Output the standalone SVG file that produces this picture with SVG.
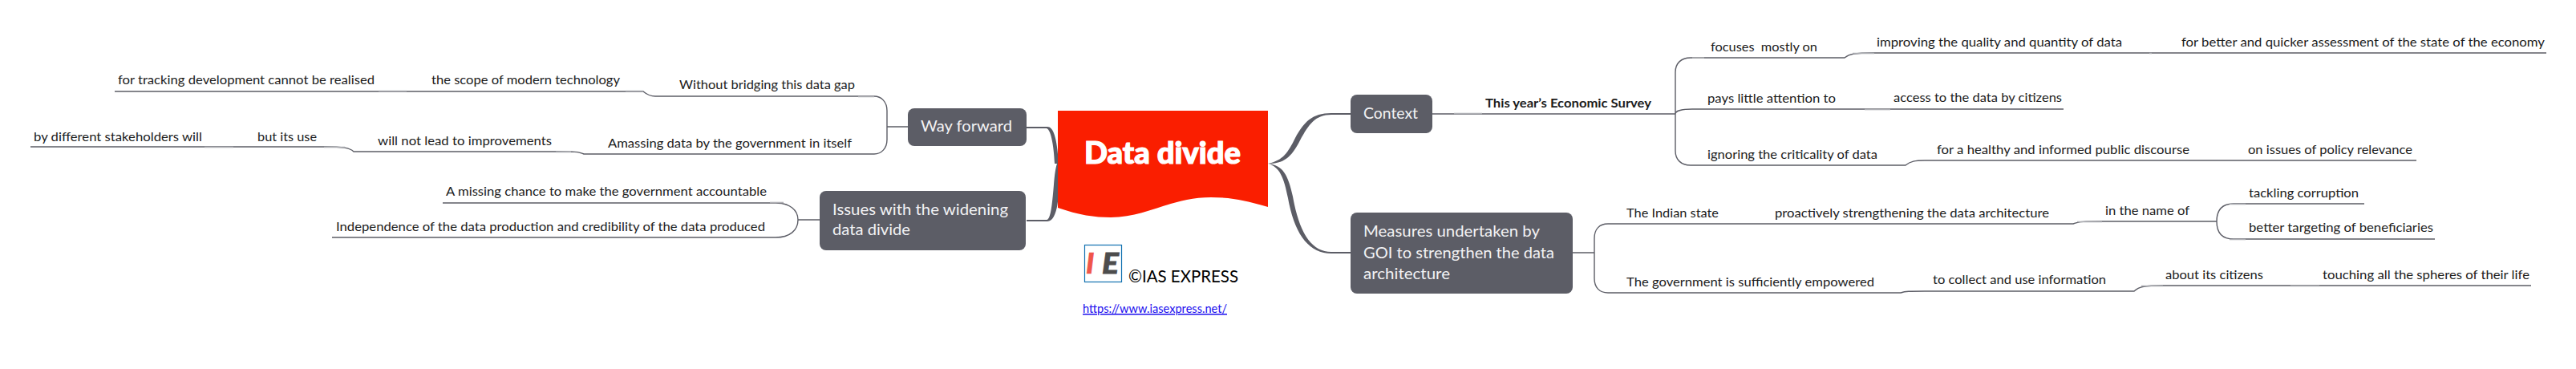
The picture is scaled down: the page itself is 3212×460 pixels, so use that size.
<svg xmlns="http://www.w3.org/2000/svg" width="3212" height="460" viewBox="0 0 3212 460">
<style>
text{font-family:"Lato","Carlito","Open Sans",sans-serif;fill:#1c1c1c;font-size:15px}
.t{font-size:18.5px;fill:#f2f2f4}
.b{font-weight:700}
.box{fill:#5c5d66}
.l{fill:none;stroke:#5c5d66;stroke-width:1.4}
.h{fill:none;stroke:#adaeb3;stroke-width:1.6}
.f{fill:#5c5d66}
</style>
<rect width="3212" height="460" fill="#fff"/>
<g id="connectors">
<path class="f" d="M1581 204C1600 200 1606 190 1615 172C1626 152 1636 141 1660 141L1684 141L1684 143L1660 143C1640 143 1632 155 1621 175C1610 197 1600 204 1581 204Z"/>
<path class="f" d="M1581 204C1600 206 1606 218 1612 245C1620 290 1635 314 1660 314L1684 314L1684 316L1660 316C1632 316 1614 292 1606 247C1601 222 1596 208 1581 204Z"/>
<path class="f" d="M1280 158H1306C1313 158 1318 170 1320 204L1315 204C1314 180 1310 161 1305 160H1280Z"/>
<path class="f" d="M1280 274H1305C1310 274 1312 255 1314 230C1315 218 1316 210 1318 204L1322 204L1320 240C1319 262 1314 276 1306 276H1280Z"/>
<path class="l" d="M1786 142H2089"/>
<path class="h" d="M1813 141.500H1848"/>
<path class="l" d="M2125 72H2108C2096 72 2089 79 2089 90V188C2089 199 2096 206 2108 206H2125M2089 142C2089 138 2098 136 2110 136H2125"/>
<path class="l" d="M2125 72H2300C2306 67 2312 66 2337 66H3175"/>
<path class="h" d="M2310 66.500H2337M2110 72H2125M2680 66.500H2683"/>
<path class="l" d="M2125 136H2573"/>
<path class="h" d="M2325 136.500H2357"/>
<path class="l" d="M2125 206H2376C2382 201 2388 200 2400 200H3013"/>
<path class="l" d="M1961 315H1988M2028 279H2005C1994 279 1988 286 1988 297V347C1988 358 1994 365 2005 365H2370C2376 363 2380 363 2400 363H2661C2667 357 2675 356 2697 356H3156M2028 279H2585C2592 276 2600 276 2621 276H2764M2800 254H2785C2771 254 2764 262 2764 276C2764 290 2771 298 2785 298H2800M2800 254H2948M2800 298H3036"/>
<path class="h" d="M2590 276.500H2621M2670 356.500H2697M2856 356.500H2892M2780 254.500H2800M2780 298.500H2800"/>
<path class="l" d="M143 114H802C808 119 812 120 817 120H1090C1099 120 1106 127 1106 138V174C1106 185 1099 192 1090 192H728C722 189 715 189 693 189H441C436 184 428 183 404 183H38M1106 158H1132"/>
<path class="h" d="M472 113.500H507M780 113.500H802M1070 120.500H1090M693 189.500H712M404 183.500H430M255 183.500H291"/>
<path class="l" d="M552 253H967C985 253 995 262 995 274C995 287 985 296 967 296H414M995 274H1022"/>
<path class="h" d="M960 252.500H977"/>
</g>
<g id="central">
<path fill="#fa1e00" d="M1319 138H1581V258C1560 252 1540 246 1510 246C1460 246 1430 271 1385 271C1365 271 1345 268 1319 259Z"/>
<text x="1352" y="204" textLength="195" lengthAdjust="spacingAndGlyphs" style="font-size:37px;font-weight:900;fill:#fff;stroke:#fff;stroke-width:1.2">Data divide</text>
</g>
<g id="logo">
<rect x="1352.500" y="305.500" width="46" height="46" fill="#fff" stroke="#1070b0" stroke-width="1.200"/>
<text x="1354" y="341" style="font-size:36px;font-weight:900;font-style:italic;fill:#f0554a;stroke:#f0554a;stroke-width:.6">I</text>
<text x="1374" y="341" textLength="21" lengthAdjust="spacingAndGlyphs" style="font-size:36px;font-weight:900;font-style:italic;fill:#4d4d4d;stroke:#4d4d4d;stroke-width:.8">E</text>
</g>
<g id="credit">
<text x="1407" y="352" textLength="137" lengthAdjust="spacingAndGlyphs" style="font-size:21px;fill:#000">©IAS EXPRESS</text>
</g>
<g id="link">
<text x="1350" y="390" textLength="180" lengthAdjust="spacingAndGlyphs" text-decoration="underline" style="font-size:15px;fill:#1a0dee">https://www.iasexpress.net/</text>
</g>
<g id="node-context"><rect class="box" x="1684" y="118" width="102" height="48" rx="8"/><text class="t" x="1700" y="148" textLength="68" lengthAdjust="spacingAndGlyphs">Context</text></g>
<g id="node-measures"><rect class="box" x="1684" y="265" width="277" height="101" rx="8"/>
<text class="t" x="1700" y="295" textLength="220" lengthAdjust="spacingAndGlyphs">Measures undertaken by</text>
<text class="t" x="1700" y="322" textLength="238" lengthAdjust="spacingAndGlyphs">GOI to strengthen the data</text>
<text class="t" x="1700" y="348" textLength="108" lengthAdjust="spacingAndGlyphs">architecture</text></g>
<g id="node-way"><rect class="box" x="1132" y="135" width="148" height="47" rx="8"/><text class="t" x="1148" y="164" textLength="114" lengthAdjust="spacingAndGlyphs">Way forward</text></g>
<g id="node-issues"><rect class="box" x="1022" y="238" width="257" height="74" rx="8"/>
<text class="t" x="1038" y="268" textLength="219" lengthAdjust="spacingAndGlyphs">Issues with the widening</text>
<text class="t" x="1038" y="293" textLength="97" lengthAdjust="spacingAndGlyphs">data divide</text></g>
<g id="n1"><text class="b" x="1852" y="134" textLength="207" lengthAdjust="spacingAndGlyphs">This year’s Economic Survey</text></g>
<g id="n2"><text x="2133" y="64" textLength="133" lengthAdjust="spacingAndGlyphs" xml:space="preserve">focuses  mostly on</text></g>
<g id="n3"><text x="2340" y="58" textLength="306" lengthAdjust="spacingAndGlyphs">improving the quality and quantity of data</text></g>
<g id="n4"><text x="2720" y="58" textLength="453" lengthAdjust="spacingAndGlyphs">for better and quicker assessment of the state of the economy</text></g>
<g id="n5"><text x="2129" y="128" textLength="160" lengthAdjust="spacingAndGlyphs">pays little attention to</text></g>
<g id="n6"><text x="2361" y="127" textLength="210" lengthAdjust="spacingAndGlyphs">access to the data by citizens</text></g>
<g id="n7"><text x="2129" y="198" textLength="212" lengthAdjust="spacingAndGlyphs">ignoring the criticality of data</text></g>
<g id="n8"><text x="2415" y="192" textLength="315" lengthAdjust="spacingAndGlyphs">for a healthy and informed public discourse</text></g>
<g id="n9"><text x="2803" y="192" textLength="205" lengthAdjust="spacingAndGlyphs">on issues of policy relevance</text></g>
<g id="n10"><text x="2028" y="271" textLength="115" lengthAdjust="spacingAndGlyphs">The Indian state</text></g>
<g id="n11"><text x="2213" y="271" textLength="342" lengthAdjust="spacingAndGlyphs">proactively strengthening the data architecture</text></g>
<g id="n12"><text x="2625" y="268" textLength="105" lengthAdjust="spacingAndGlyphs">in the name of</text></g>
<g id="n13"><text x="2804" y="246" textLength="137" lengthAdjust="spacingAndGlyphs">tackling corruption</text></g>
<g id="n14"><text x="2804" y="289" textLength="230" lengthAdjust="spacingAndGlyphs">better targeting of beneficiaries</text></g>
<g id="n15"><text x="2028" y="357" textLength="309" lengthAdjust="spacingAndGlyphs">The government is sufficiently empowered</text></g>
<g id="n16"><text x="2410" y="354" textLength="216" lengthAdjust="spacingAndGlyphs">to collect and use information</text></g>
<g id="n17"><text x="2700" y="348" textLength="122" lengthAdjust="spacingAndGlyphs">about its citizens</text></g>
<g id="n18"><text x="2896" y="348" textLength="258" lengthAdjust="spacingAndGlyphs">touching all the spheres of their life</text></g>
<g id="n19"><text x="847" y="111" textLength="219" lengthAdjust="spacingAndGlyphs">Without bridging this data gap</text></g>
<g id="n20"><text x="538" y="105" textLength="235" lengthAdjust="spacingAndGlyphs">the scope of modern technology</text></g>
<g id="n21"><text x="147" y="105" textLength="320" lengthAdjust="spacingAndGlyphs">for tracking development cannot be realised</text></g>
<g id="n22"><text x="758" y="184" textLength="304" lengthAdjust="spacingAndGlyphs">Amassing data by the government in itself</text></g>
<g id="n23"><text x="471" y="181" textLength="217" lengthAdjust="spacingAndGlyphs">will not lead to improvements</text></g>
<g id="n24"><text x="321" y="176" textLength="74" lengthAdjust="spacingAndGlyphs">but its use</text></g>
<g id="n25"><text x="42" y="176" textLength="210" lengthAdjust="spacingAndGlyphs">by different stakeholders will</text></g>
<g id="n26"><text x="556" y="244" textLength="400" lengthAdjust="spacingAndGlyphs">A missing chance to make the government accountable</text></g>
<g id="n27"><text x="419" y="288" textLength="535" lengthAdjust="spacingAndGlyphs">Independence of the data production and credibility of the data produced</text></g>
</svg>
